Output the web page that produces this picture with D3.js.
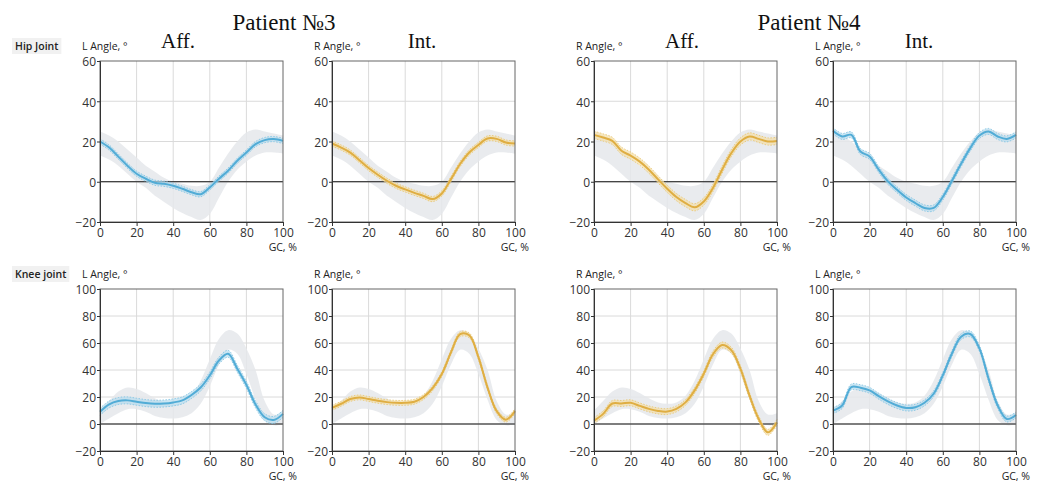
<!DOCTYPE html>
<html>
<head>
<meta charset="utf-8">
<script src="https://cdn.jsdelivr.net/npm/d3@7"></script>
<style>
  body { margin: 0; background: #fff; }
  svg { display: block; }
  .tick text { font-family: "Open Sans", sans-serif; font-size: 12px; fill: #333; }
  .lbl { font-family: "Open Sans", sans-serif; font-size: 10.5px; fill: #222; }
  .title { font-family: "Liberation Serif", "DejaVu Serif", serif; fill: #111; }
</style>
</head>
<body>
<svg id="chart" width="1043" height="482"></svg>
<script>
// gait cycle, %
var gc = [0, 5, 10, 15, 20, 25, 30, 35, 40, 45, 50, 55, 60, 65, 70, 75, 80, 85, 90, 95, 100];

// normative bands (grey)
var hipNormUpper = [25, 23, 20, 16, 12, 8, 5, 2, 0, -1, -2, -2, 0, 7, 14, 20, 24.5, 26, 25, 24, 23];
var hipNormLower = [13, 11, 8, 4, 0, -3, -7, -10, -13, -15.5, -17.5, -19, -16, -8, 0, 6, 10, 13, 14.5, 14.5, 14];
var kneeNormUpper = [10, 17, 24, 27, 26, 23, 19, 16, 15, 16, 21, 32, 48, 63, 69.5, 67, 56, 40, 17, 7, 8];
var kneeNormLower = [0, 4, 8, 11, 11, 9, 6, 4.5, 4, 5, 8, 15, 28, 44, 55, 52, 37, 18, 3, -1, 0];

// patient means
var hipP3Aff = [20, 17, 12.5, 8, 4, 1.5, -0.5, -1, -2, -3.5, -5.2, -6.2, -2.8, 1.5, 5.5, 10.4, 14.5, 18.7, 20.7, 21.2, 20.3];
var hipP3Int = [19, 17, 14.5, 10.7, 6.8, 3.5, 0.5, -2, -3.8, -5.5, -7, -8.6, -5.8, 1.3, 8.8, 14.5, 18.3, 21.5, 21.3, 19.5, 19];
var hipP4Aff = [23.3, 22, 20.3, 15.4, 13, 10, 6, 1.2, -3.5, -7.6, -10.6, -12.7, -9.8, -3.1, 6, 14.2, 20, 22.5, 21.3, 20, 20.3];
var hipP4Int = [25.3, 22.5, 23.3, 15, 12.6, 6, 0.2, -4, -7.8, -10.6, -13, -13, -7.6, 0.5, 8.9, 16.7, 23, 25, 22.5, 21.3, 23.3];
var kneeP3Aff = [9, 14.5, 17, 17.5, 16.5, 15.5, 15, 15.2, 16, 17.5, 21.5, 27, 36, 47, 52, 41, 29, 14.5, 5, 3, 7.5];
var kneeP3Int = [12, 15, 18.5, 19.7, 18.5, 17.2, 16.2, 15.7, 15.7, 16.5, 20, 26.5, 37, 53, 66.5, 65.7, 49.5, 27, 9.5, 3.2, 9.5];
var kneeP4Aff = [2.5, 7.5, 15.2, 15.2, 15.7, 13.4, 11.2, 9.7, 9.2, 11.2, 16, 24.9, 37.3, 51.7, 58.5, 54.7, 41, 21, 3.7, -6.2, 1.2];
var kneeP4Int = [10, 13.7, 27.4, 26.9, 24.9, 20.6, 16.7, 13.7, 11.9, 12.4, 15.7, 22.4, 36, 52.2, 64.7, 66.7, 56, 33.6, 13.7, 3.7, 6.7];

// patient spread (+/- deg)
var spread = [1.3, 1.3, 1.8, 1.5, 2.6, 1.8, 2.2, 2.2];

var xTicks = [0, 20, 40, 60, 80, 100];
var hipTicks = [-20, 0, 20, 40, 60];
var kneeTicks = [-20, 0, 20, 40, 60, 80, 100];
var sideLabels = ["L Angle, °", "R Angle, °", "R Angle, °", "L Angle, °"];
var rowLabels = ["Hip Joint", "Knee joint"];
var colTitles = ["Aff.", "Int.", "Aff.", "Int."];
var patients = ["Patient №3", "Patient №4"];

var colX = [100, 332, 594, 833];
var plotW = 183;
var rowTop = [61, 289];
var rowBottom = [222, 451];

var palette = {
  blue: {line: "#52acd6", band: "#b5dcee", edge: "#7cc2e2"},
  gold: {line: "#dfae43", band: "#f4dea6", edge: "#e8c46c"}
};
var colColors = ["blue", "gold", "gold", "blue"];

var svg = d3.select("#chart");
var labelLayer = svg.append("g");

var panels = [
  {row: 0, col: 0, mean: hipP3Aff}, {row: 0, col: 1, mean: hipP3Int},
  {row: 0, col: 2, mean: hipP4Aff}, {row: 0, col: 3, mean: hipP4Int},
  {row: 1, col: 0, mean: kneeP3Aff}, {row: 1, col: 1, mean: kneeP3Int},
  {row: 1, col: 2, mean: kneeP4Aff}, {row: 1, col: 3, mean: kneeP4Int}
];

panels.forEach(function(p, i) {
  var x = d3.scaleLinear().domain([0, 100]).range([colX[p.col], colX[p.col] + plotW]);
  var y = d3.scaleLinear()
    .domain(p.row === 0 ? [-20, 60] : [-20, 100])
    .range([rowBottom[p.row], rowTop[p.row]]);
  var yTicks = p.row === 0 ? hipTicks : kneeTicks;
  var up = p.row === 0 ? hipNormUpper : kneeNormUpper;
  var lo = p.row === 0 ? hipNormLower : kneeNormLower;
  var c = palette[colColors[p.col]];
  var s = spread[i];
  var g = svg.append("g");

  // grid
  g.selectAll("line.vg").data(xTicks.slice(1, -1)).enter().append("line")
    .attr("x1", d => x(d)).attr("x2", d => x(d))
    .attr("y1", y.range()[1]).attr("y2", y.range()[0])
    .attr("stroke", "#dadada");
  g.selectAll("line.hg").data(yTicks.slice(1, -1)).enter().append("line")
    .attr("x1", x.range()[0]).attr("x2", x.range()[1])
    .attr("y1", d => y(d)).attr("y2", d => y(d))
    .attr("stroke", "#dadada");

  var curve = d3.curveCatmullRom;

  // normative band
  g.append("path")
    .datum(gc)
    .attr("fill", "#e5e7eb")
    .attr("fill-opacity", 0.85)
    .attr("d", d3.area().curve(curve)
      .x(d => x(d))
      .y0((d, k) => y(lo[k]))
      .y1((d, k) => y(up[k])));

  // zero line
  g.append("line")
    .attr("x1", x.range()[0]).attr("x2", x.range()[1])
    .attr("y1", y(0)).attr("y2", y(0))
    .attr("stroke", "#111").attr("stroke-width", 1.2);

  // patient band
  g.append("path")
    .datum(gc)
    .attr("fill", c.band)
    .attr("fill-opacity", 0.7)
    .attr("d", d3.area().curve(curve)
      .x(d => x(d))
      .y0((d, k) => y(p.mean[k] - s))
      .y1((d, k) => y(p.mean[k] + s)));
  [-1, 1].forEach(function(sg) {
    g.append("path")
      .datum(gc)
      .attr("fill", "none")
      .attr("stroke", c.edge)
      .attr("stroke-width", 0.8)
      .attr("stroke-dasharray", "1.5,1.5")
      .attr("d", d3.line().curve(curve)
        .x(d => x(d))
        .y((d, k) => y(p.mean[k] + sg * s)));
  });
  g.append("path")
    .datum(gc)
    .attr("fill", "none")
    .attr("stroke", c.line)
    .attr("stroke-width", 2)
    .attr("d", d3.line().curve(curve)
      .x(d => x(d))
      .y((d, k) => y(p.mean[k])));

  // frame
  g.append("rect")
    .attr("x", x.range()[0]).attr("y", y.range()[1])
    .attr("width", plotW).attr("height", y.range()[0] - y.range()[1])
    .attr("fill", "none").attr("stroke", "#666");

  // axes
  var ya = g.append("g")
    .attr("transform", "translate(" + x.range()[0] + ",0)")
    .call(d3.axisLeft(y).tickValues(yTicks).tickSize(3).tickPadding(1));
  ya.selectAll(".tick text").attr("dy", "0.4em");
  var xa = g.append("g")
    .attr("transform", "translate(0," + y.range()[0] + ")")
    .call(d3.axisBottom(x).tickValues(xTicks).tickSize(4).tickPadding(2));
  [ya, xa].forEach(function(a) {
    a.select(".domain").attr("stroke", "#333");
    a.selectAll(".tick line").attr("stroke", "#333");
  });

  // axis titles
  g.append("text").attr("class", "lbl")
    .attr("x", x.range()[0] - 18).attr("y", y.range()[1] - 11)
    .text(sideLabels[p.col]);
  g.append("text").attr("class", "lbl")
    .attr("text-anchor", "end")
    .attr("x", x.range()[1] + 14).attr("y", y.range()[0] + 29)
    .text("GC, %");

  if (p.row === 0) {
    svg.append("text").attr("class", "title")
      .attr("text-anchor", "middle")
      .attr("font-size", 21)
      .attr("x", [178, 422, 682, 919][p.col]).attr("y", 48)
      .text(colTitles[p.col]);
  }
});

// row labels
rowLabels.forEach(function(t, r) {
  var bg = labelLayer.append("rect").attr("fill", "#f1f1f1");
  var tx = labelLayer.append("text").attr("class", "lbl")
    .attr("x", 15).attr("y", rowTop[r] - 11)
    .attr("font-weight", 600)
    .text(t);
  var bb = tx.node().getBBox();
  bg.attr("x", bb.x - 3).attr("y", bb.y - 1)
    .attr("width", bb.width + 6).attr("height", bb.height + 2);
});

// patient titles
patients.forEach(function(t, k) {
  svg.append("text").attr("class", "title")
    .attr("text-anchor", "middle")
    .attr("font-size", 23)
    .attr("x", [284, 809][k]).attr("y", 30)
    .text(t);
});
</script>
</body>
</html>
